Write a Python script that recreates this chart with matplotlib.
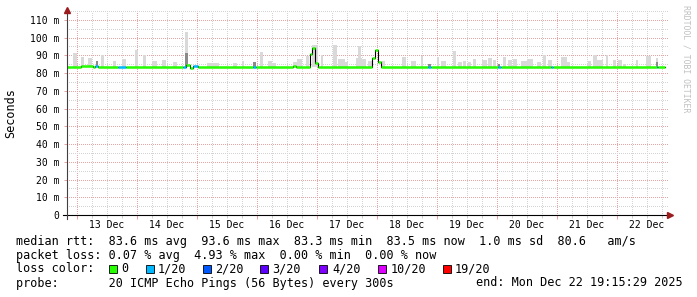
import matplotlib
matplotlib.use("Agg")
import matplotlib.pyplot as plt
from matplotlib.patches import Rectangle
from matplotlib.ticker import FixedLocator, MultipleLocator

W, H = 697, 297
MONO = "DejaVu Sans Mono"

# x axis in hours after 13 Dec 00:00
x_min_h, x_max_h = -4.0, 236.4
data_end_h = 235.25
day_labels = ["13 Dec", "14 Dec", "15 Dec", "16 Dec", "17 Dec",
              "18 Dec", "19 Dec", "20 Dec", "21 Dec", "22 Dec"]

# median rtt as steps: start hour, value (ms), lost pings out of 20
step_start_h = [-4.0, 1.6, 6.4, 7.2, 8.4, 16.4, 19.6, 42.4, 43.6, 45.2, 46.4, 48.4,
                70.4, 71.6, 86.4, 87.6, 93.3, 94.1, 95.3, 96.4, 118.1, 119.3,
                120.2, 121.4, 140.4, 141.6, 168.4, 169.6, 189.6, 190.4, 232.0, 232.4]
step_median_ms = [83.5, 83.9, 83.5, 84.2, 83.6, 83.4, 83.5, 83.4, 84.6, 82.9, 84.0, 83.5,
                  83.5, 83.5, 84.2, 83.5, 90.6, 94.2, 85.6, 83.5, 88.3, 93.2,
                  86.3, 83.5, 83.5, 83.5, 83.5, 83.5, 83.5, 83.5, 83.5, 83.5]
step_loss = [0, 0, 0, 1, 0, 1, 0, 1, 0, 0, 1, 0,
             1, 0, 0, 0, 0, 0, 0, 0, 0, 0,
             0, 0, 1, 0, 1, 0, 1, 0, 1, 0]

# smoke (ping spread): start hour, width (h), top (ms)
smoke_start_h = [-1.6, 1.6, 4.4, 9.6, 14.4, 18.0, 23.2, 26.4, 30.0, 34.0, 38.4, 43.2,
                 52.0, 62.4, 66.0, 73.2, 76.4, 78.0, 86.4, 88.0, 91.6, 94.0, 97.6,
                 102.4, 104.4, 107.2, 111.6, 112.4, 114.0, 116.4, 121.6, 130.0, 133.6,
                 137.6, 144.0, 145.6, 150.4, 152.4, 154.4, 156.4, 158.4, 162.0, 164.4,
                 166.4, 170.4, 172.4, 174.4, 177.6, 180.0, 184.0, 186.4, 188.4, 193.6,
                 196.0, 204.4, 206.4, 208.0, 211.6, 214.4, 216.4, 218.4, 223.6, 227.6,
                 231.6]
smoke_width_h = [1.4, 1.0, 1.6, 1.0, 1.2, 1.6, 1.2, 1.2, 2.0, 1.6, 1.6, 1.2,
                 4.8, 1.6, 0.6, 1.2, 1.6, 1.6, 1.6, 2.0, 1.2, 2.4, 0.8,
                 1.6, 2.8, 1.2, 2.4, 1.2, 1.6, 1.6, 1.6, 1.6, 2.0,
                 0.8, 0.8, 2.0, 1.2, 1.6, 1.2, 1.2, 1.2, 2.0, 1.6,
                 1.2, 1.2, 1.6, 1.6, 2.4, 2.4, 1.6, 1.2, 1.6, 2.4,
                 1.2, 1.2, 1.6, 2.4, 0.8, 1.2, 1.6, 1.2, 0.8, 2.0,
                 0.8]
smoke_top_ms = [91.3, 89.3, 88.7, 90.0, 87.0, 88.2, 93.0, 90.4, 87.0, 87.6, 86.4, 103.4,
                85.7, 85.7, 87.0, 91.7, 87.0, 85.7, 86.4, 88.1, 89.8, 96.0, 90.4,
                96.0, 88.1, 86.4, 88.5, 95.5, 88.0, 86.6, 86.6, 89.0, 87.0,
                89.8, 89.0, 86.8, 92.7, 86.2, 86.6, 86.2, 88.1, 87.2, 88.5,
                87.6, 88.9, 87.4, 88.0, 87.0, 88.1, 86.2, 90.4, 87.2, 89.0,
                86.4, 86.6, 90.4, 87.6, 90.4, 87.2, 87.6, 85.3, 87.2, 89.8,
                88.5]
dark_start_h = [7.6, 43.2, 70.4, 140.4, 168.4, 231.6]
dark_width_h = [0.8, 1.2, 1.2, 1.2, 0.8, 0.8]
dark_top_ms = [87.0, 91.5, 86.3, 85.3, 85.0, 86.3]
smoke_base_ms = 83.2

loss_levels = [0, 1, 2, 3, 4, 10, 19]
loss_labels = ["0", "1/20", "2/20", "3/20", "4/20", "10/20", "19/20"]
loss_colors = ["#26ff00", "#00b8ff", "#0059ff", "#5e00ff", "#7e00ff", "#dd00ff", "#ff0000"]

y_ticks = list(range(0, 111, 10))
y_labels = ["0"] + ["%d m" % v for v in y_ticks[1:]]

line_rtt = "median rtt:  83.6 ms avg  93.6 ms max  83.3 ms min  83.5 ms now  1.0 ms sd  80.6   am/s"
line_loss = "packet loss: 0.07 % avg  4.93 % max  0.00 % min  0.00 % now"
line_probe = "probe:       20 ICMP Echo Pings (56 Bytes) every 300s"
line_end = "end: Mon Dec 22 19:15:29 2025"


def fx(px):
    return px / W


def fy(py):
    return 1 - py / H


fig = plt.figure(figsize=(W / 100, H / 100), dpi=100)
ax = fig.add_axes([fx(67), fy(215), fx(668) - fx(67), fy(11) - fy(215)])
ax.set_xlim(x_min_h, x_max_h)
ax.set_ylim(0, 115)

# grid
ax.xaxis.set_major_locator(FixedLocator([24 * d for d in range(0, 10)]))
ax.xaxis.set_minor_locator(MultipleLocator(6))
ax.yaxis.set_major_locator(FixedLocator(y_ticks))
ax.yaxis.set_minor_locator(MultipleLocator(5))
ax.grid(which="major", color="#e8a4a4", linestyle=(0, (1, 2)), linewidth=0.72,
        antialiased=False, zorder=0)
ax.grid(which="minor", color="#d4d4d4", linestyle=(0, (1, 2)), linewidth=0.72,
        antialiased=False, zorder=0)
ax.set_axisbelow(True)
ax.set_xticklabels([])
ax.set_yticklabels(y_labels, fontfamily=MONO, fontsize=7)
ax.tick_params(axis="x", which="major", length=3, width=0.7, color="#e8a0a0")
ax.tick_params(axis="x", which="minor", length=2, width=0.7, color="#cccccc")
ax.tick_params(axis="y", which="major", length=2, width=0.7, color="#e8a0a0", pad=3.6)
ax.tick_params(axis="y", which="minor", length=0)
for s in ax.spines.values():
    s.set_visible(False)

for i, lab in enumerate(day_labels):
    ax.annotate(lab, xy=(24 * i + 12, 0), xycoords=("data", "axes fraction"),
                xytext=(0, -10), textcoords="offset pixels", ha="center", va="center",
                fontfamily=MONO, fontsize=7)

# smoke
ax.bar(smoke_start_h, [t - smoke_base_ms for t in smoke_top_ms], smoke_width_h,
       bottom=smoke_base_ms, align="edge", color="#d9d9d9", linewidth=0, zorder=2)
ax.bar(dark_start_h, [t - smoke_base_ms for t in dark_top_ms], dark_width_h,
       bottom=smoke_base_ms, align="edge", color="#8a8a8a", linewidth=0, zorder=3)

# median line, coloured by loss
xs = step_start_h + [data_end_h]
ys = step_median_ms + [step_median_ms[-1]]
ax.step(xs, ys, where="post", color="black", linewidth=0.8, zorder=4)
for i in range(len(step_start_h)):
    c = loss_colors[loss_levels.index(step_loss[i])]
    ax.plot([xs[i], xs[i + 1]], [ys[i], ys[i]], color=c, linewidth=1.8,
            solid_capstyle="butt", zorder=5)

# axes lines and arrows
ax.plot([-0.007, 1.0], [0, 0], transform=ax.transAxes, color="black",
        linewidth=0.8, clip_on=False, zorder=6)
ax.plot([0, 0], [-0.02, 1.0], transform=ax.transAxes, color="#404040",
        linewidth=0.8, clip_on=False, zorder=6)
ax.plot([0], [1.005], transform=ax.transAxes, marker="^", markersize=4.5,
        color="#9b1c1c", clip_on=False, zorder=7)
ax.plot([1.004], [0], transform=ax.transAxes, marker=">", markersize=4.5,
        color="#9b1c1c", clip_on=False, zorder=7)

fig.text(fx(11), fy(113), "Seconds", rotation=90, ha="center", va="center",
         fontfamily=MONO, fontsize=8.5)
fig.text(fx(686), fy(59), "RRDTOOL / TOBI OETIKER", rotation=270, ha="center",
         va="center", fontfamily=MONO, fontsize=5.9, color="#c0c0c0")

# legend rows
fig.text(fx(15.5), fy(241), line_rtt, ha="left", va="center", fontfamily=MONO, fontsize=8.5)
fig.text(fx(15.5), fy(255), line_loss, ha="left", va="center", fontfamily=MONO, fontsize=8.5)
fig.text(fx(15.5), fy(269), "loss color:", ha="left", va="center", fontfamily=MONO, fontsize=8.5)
box_x = [109, 146, 203, 260, 319, 378, 443]
lab_x = [121, 158, 215, 272, 332, 391, 455]
for bx, lx, c, lab in zip(box_x, lab_x, loss_colors, loss_labels):
    fig.patches.append(Rectangle((fx(bx), fy(273)), 8 / W, 8 / H, transform=fig.transFigure,
                                 facecolor=c, edgecolor="black", linewidth=0.6))
    fig.text(fx(lx), fy(269), lab, ha="left", va="center", fontfamily=MONO, fontsize=8.5)
fig.text(fx(15.5), fy(283), line_probe, ha="left", va="center", fontfamily=MONO, fontsize=8.5)
fig.text(fx(683), fy(283), line_end, ha="right", va="center", fontfamily=MONO, fontsize=8.5)

fig.savefig("out.png", dpi=100)
